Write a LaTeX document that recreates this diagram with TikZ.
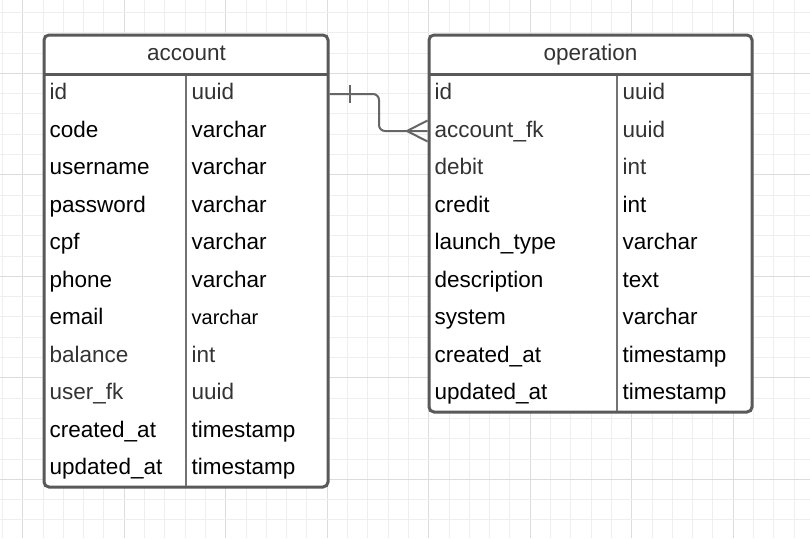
\documentclass[tikz,border=0pt]{standalone}
\usepackage{fontspec}
\setmainfont{Liberation Sans}
\definecolor{bordercol}{RGB}{89,89,89}
\definecolor{divcol}{RGB}{115,115,115}
\definecolor{conncol}{RGB}{102,102,102}
\definecolor{tg}{RGB}{51,51,51}
\definecolor{tk}{RGB}{0,0,0}
\definecolor{gridminor}{RGB}{238,238,238}
\definecolor{gridmajor}{RGB}{220,220,220}
\tikzset{
  tablebox/.style={draw=bordercol, line width=3pt, rounded corners=5pt, fill=white, inner sep=0pt},
  sepline/.style={draw=bordercol, line width=3pt},
  divline/.style={draw=divcol, line width=2.2pt},
  cell/.style={anchor=base west, inner sep=0pt},
  head/.style={anchor=base, inner sep=0pt, text=tg, font=\fontsize{22.5}{26}\selectfont},
  conn/.style={draw=conncol, line width=2pt},
}
\begin{document}
\begin{tikzpicture}[x=1pt,y=-1pt]
\useasboundingbox (0,0) rectangle (810,538);
\fill[white] (0,0) rectangle (810,538);
% grid
\foreach \i in {0,...,39} {
  \pgfmathsetmacro\gx{2.4+20.3*\i}
  \pgfmathtruncatemacro\gm{mod(\i,5)}
  \ifnum\gm=1
    \draw[gridmajor, line width=1pt] (\gx,0) -- (\gx,538);
  \else
    \draw[gridminor, line width=1pt] (\gx,0) -- (\gx,538);
  \fi
}
\foreach \j in {0,...,25} {
  \pgfmathsetmacro\gy{12.4+20.3*\j}
  \pgfmathtruncatemacro\gm{mod(\j,5)}
  \ifnum\gm=3
    \draw[gridmajor, line width=1pt] (0,\gy) -- (810,\gy);
  \else
    \draw[gridminor, line width=1pt] (0,\gy) -- (810,\gy);
  \fi
}
% account table
\node[tablebox, minimum width=284pt, minimum height=452pt] (acc) at (186,261) {};
\draw[sepline] (44,74) -- (328,74);
\draw[divline] (186,75.5) -- (186,485.5);
\node[head] (acchead) at (186.5,60) {account};
\foreach \n/\t/\c/\s [count=\i] in {
  id/uuid/tg/22.5, code/varchar/tk/22.5, username/varchar/tk/22.5,
  password/varchar/tk/22.5, cpf/varchar/tk/22.5, phone/varchar/tk/22.5,
  email/varchar/tk/20, balance/int/tg/22.5, user\_fk/uuid/tg/22.5,
  created\_at/timestamp/tk/22.5, updated\_at/timestamp/tk/22.5} {
  \pgfmathsetmacro\yb{74+37.5*(\i-0.5)+7}
  \node[cell, text=\c, font=\fontsize{22.5}{26}\selectfont] (an\i) at (49.5,\yb) {\n};
  \node[cell, text=\c, font=\fontsize{\s}{24}\selectfont] (at\i) at (191.5,\yb) {\t};
}
% operation table
\node[tablebox, minimum width=323pt, minimum height=377pt] (op) at (590.5,223.5) {};
\draw[sepline] (429,74) -- (752,74);
\draw[divline] (617,75.5) -- (617,410.5);
\node[head] (ophead) at (590.5,60) {operation};
\foreach \n/\t/\c [count=\i] in {
  id/uuid/tg, account\_fk/uuid/tg, debit/int/tg, credit/int/tk,
  launch\_type/varchar/tk, description/text/tk, system/varchar/tk,
  created\_at/timestamp/tk, updated\_at/timestamp/tk} {
  \pgfmathsetmacro\yb{74+37.5*(\i-0.5)+7}
  \node[cell, text=\c, font=\fontsize{22.5}{26}\selectfont] (on\i) at (434.5,\yb) {\n};
  \node[cell, text=\c, font=\fontsize{22.5}{26}\selectfont] (ot\i) at (622.5,\yb) {\t};
}
% connector
\coordinate (cstart) at (acc.east |- 0,94);
\coordinate (cend) at (op.west |- 0,131);
\coordinate (cfoot) at (407,131);
\draw[conn, rounded corners=6pt] (cstart) -- (379,94) -- (379,131) -- (cend);
\draw[conn] (350,85) -- (350,103);
\draw[conn] (cfoot) -- (op.west |- 0,120.5);
\draw[conn] (cfoot) -- (op.west |- 0,141.5);
\end{tikzpicture}
\end{document}
